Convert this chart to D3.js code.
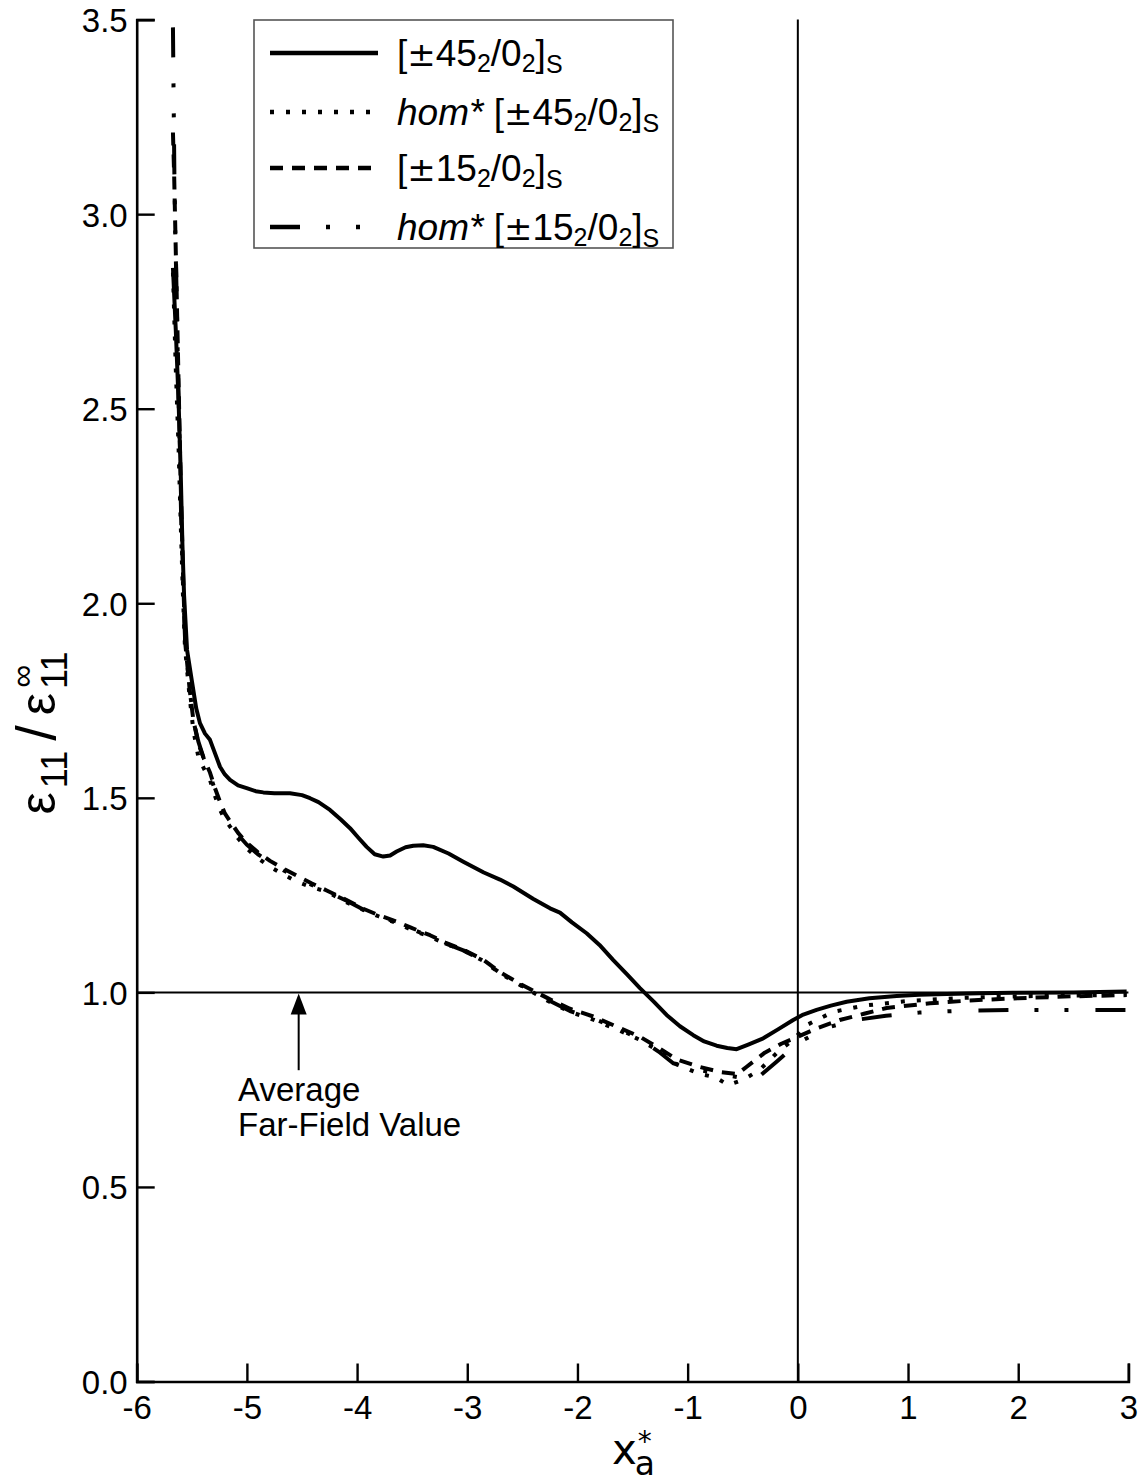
<!DOCTYPE html>
<html lang="en">
  <head>
    <meta charset="UTF-8" />
    <title>Normalized strain along x*a</title>
    <script src="https://d3js.org/d3.v7.min.js"></script>
    <style>
      body {
        margin: 0;
        padding: 0;
        background: #fff;
      }
      svg {
        display: block;
        font-family: "Liberation Sans", Arial, Helvetica, sans-serif;
      }
    </style>
  </head>
  <body>
    <svg width="1146" height="1483"></svg>
    <script>
      // values
      const xTicks = [-6, -5, -4, -3, -2, -1, 0, 1, 2, 3];
      const yTicks = [0, 0.5, 1, 1.5, 2, 2.5, 3, 3.5];

      const lam45X = [-5.671, -5.645, -5.62, -5.6, -5.585, -5.57, -5.543, -5.501, -5.46, -5.426, -5.38, -5.335, -5.29, -5.244, -5.2, -5.153, -5.08, -5.002, -4.92, -4.851, -4.75, -4.609, -4.5, -4.427, -4.35, -4.246, -4.15, -4.064, -3.99, -3.913, -3.84, -3.762, -3.7, -3.641, -3.56, -3.49, -3.4, -3.309, -3.17, -3.036, -2.85, -2.703, -2.582, -2.4, -2.249, -2.159, -2.05, -1.917, -1.8, -1.675, -1.55, -1.433, -1.31, -1.191, -1.07, -0.949, -0.85, -0.737, -0.64, -0.555, -0.45, -0.314, -0.18, -0.042, 0.05, 0.17, 0.3, 0.443, 0.65, 0.897, 1.1, 1.35, 1.65, 1.952, 2.5, 2.984];
      const lam45Y = [2.862, 2.7, 2.52, 2.33, 2.15, 2.02, 1.88, 1.803, 1.73, 1.692, 1.665, 1.649, 1.615, 1.58, 1.56, 1.546, 1.532, 1.525, 1.517, 1.514, 1.512, 1.512, 1.507, 1.499, 1.489, 1.469, 1.445, 1.422, 1.398, 1.374, 1.355, 1.349, 1.352, 1.362, 1.373, 1.377, 1.378, 1.374, 1.357, 1.336, 1.308, 1.29, 1.272, 1.24, 1.216, 1.205, 1.18, 1.152, 1.122, 1.083, 1.046, 1.011, 0.977, 0.942, 0.913, 0.89, 0.874, 0.863, 0.857, 0.854, 0.866, 0.882, 0.905, 0.929, 0.943, 0.955, 0.966, 0.976, 0.985, 0.991, 0.994, 0.996, 0.998, 0.999, 1.0, 1.002];

      const hom45X = [-5.671, -5.645, -5.62, -5.6, -5.58, -5.562, -5.52, -5.486, -5.441, -5.39, -5.335, -5.29, -5.244, -5.2, -5.153, -5.08, -5.002, -4.9, -4.79, -4.67, -4.548, -4.41, -4.276, -4.1, -3.944, -3.8, -3.641, -3.5, -3.338, -3.2, -3.036, -2.85, -2.703, -2.522, -2.249, -2.068, -1.857, -1.644, -1.433, -1.25, -1.1, -0.886, -0.75, -0.632, -0.5, -0.35, -0.163, -0.04, 0.08, 0.32, 0.6, 1.0, 1.5, 2.0, 2.5, 2.984];
      const hom45Y = [2.85, 2.6, 2.4, 2.2, 2.02, 1.888, 1.76, 1.674, 1.606, 1.575, 1.546, 1.505, 1.469, 1.445, 1.426, 1.396, 1.37, 1.345, 1.323, 1.303, 1.285, 1.27, 1.259, 1.232, 1.212, 1.195, 1.178, 1.16, 1.143, 1.125, 1.109, 1.08, 1.049, 1.019, 0.975, 0.95, 0.93, 0.905, 0.878, 0.848, 0.815, 0.79, 0.782, 0.762, 0.775, 0.8, 0.852, 0.878, 0.916, 0.95, 0.966, 0.978, 0.986, 0.99, 0.992, 0.994];

      const lam15X = [-5.671, -5.66, -5.645, -5.63, -5.615, -5.6, -5.58, -5.56, -5.52, -5.486, -5.441, -5.39, -5.335, -5.29, -5.244, -5.2, -5.153, -5.08, -5.002, -4.9, -4.79, -4.67, -4.548, -4.41, -4.276, -4.1, -3.944, -3.8, -3.641, -3.5, -3.338, -3.2, -3.036, -2.85, -2.703, -2.522, -2.249, -2.068, -1.857, -1.644, -1.433, -1.25, -1.1, -0.886, -0.7, -0.55, -0.464, -0.3, -0.15, 0.0, 0.15, 0.38, 0.6, 0.806, 1.2, 1.6, 2.0, 2.5, 2.984];
      const lam15Y = [3.21, 3.1, 2.9, 2.7, 2.5, 2.3, 2.08, 1.9, 1.78, 1.7, 1.64, 1.6, 1.565, 1.525, 1.49, 1.46, 1.44, 1.41, 1.385, 1.36, 1.338, 1.318, 1.3, 1.28, 1.262, 1.238, 1.215, 1.198, 1.182, 1.165, 1.147, 1.128, 1.11, 1.083, 1.052, 1.022, 0.982, 0.958, 0.938, 0.912, 0.886, 0.855, 0.828, 0.808, 0.795, 0.79, 0.809, 0.845, 0.868, 0.886, 0.905, 0.929, 0.945, 0.96, 0.972, 0.98, 0.985, 0.99, 0.993];

      const hom15X = [-5.671, -5.665, -5.658, -5.65, -5.638, -5.625, -5.61, -5.595, -5.58, -5.56, -5.52, -5.486, -5.441, -5.39, -5.335, -5.29, -5.244, -5.2, -5.153, -5.08, -5.002, -4.9, -4.79, -4.67, -4.548, -4.41, -4.276, -4.1, -3.944, -3.8, -3.641, -3.5, -3.338, -3.2, -3.036, -2.85, -2.703, -2.522, -2.249, -2.068, -1.857, -1.644, -1.433, -1.25, -1.131, -0.886, -0.7, -0.5, -0.387, -0.193, 0.0, 0.261, 0.5, 0.8, 1.1, 1.5, 2.0, 2.5, 2.984];
      const hom15Y = [3.48, 3.3, 3.1, 2.95, 2.8, 2.6, 2.4, 2.2, 2.05, 1.9, 1.78, 1.7, 1.645, 1.6, 1.56, 1.52, 1.485, 1.455, 1.432, 1.405, 1.38, 1.355, 1.335, 1.314, 1.296, 1.276, 1.26, 1.236, 1.213, 1.196, 1.18, 1.162, 1.144, 1.126, 1.108, 1.08, 1.05, 1.02, 0.978, 0.952, 0.933, 0.908, 0.88, 0.845, 0.818, 0.8, 0.79, 0.78, 0.775, 0.822, 0.87, 0.909, 0.928, 0.94, 0.948, 0.953, 0.955, 0.955, 0.955];

      const series = [
        { lay: "±45", hom: false, xs: lam45X, ys: lam45Y, dash: null },
        { lay: "±45", hom: true, xs: hom45X, ys: hom45Y, dash: "4,12" },
        { lay: "±15", hom: false, xs: lam15X, ys: lam15Y, dash: "13,9" },
        { lay: "±15", hom: true, xs: hom15X, ys: hom15Y, dash: "30,26,4,26,4,27" },
      ];

      const svg = d3.select("svg");
      const margin = { left: 136.7, right: 1128.4, top: 19.6, bottom: 1381.5 };

      const x = d3.scaleLinear().domain([-6, 3]).range([margin.left, margin.right]);
      const y = d3.scaleLinear().domain([0, 3.5]).range([margin.bottom, margin.top]);

      // reference lines: far-field value and x = 0
      svg.append("line")
        .attr("x1", x(-6)).attr("x2", x(3))
        .attr("y1", y(1)).attr("y2", y(1))
        .attr("stroke", "#000").attr("stroke-width", 2);
      svg.append("line")
        .attr("x1", x(0)).attr("x2", x(0))
        .attr("y1", y(0)).attr("y2", y(3.5))
        .attr("stroke", "#000").attr("stroke-width", 2);

      // axes (inward ticks, no box)
      const xAxis = svg.append("g")
        .attr("transform", `translate(0,${y(0)})`)
        .call(d3.axisBottom(x).tickValues(xTicks).tickSize(-18).tickPadding(14).tickFormat((d) => String(d)));
      const yAxis = svg.append("g")
        .attr("transform", `translate(${x(-6)},0)`)
        .call(d3.axisLeft(y).tickValues(yTicks).tickSize(-18).tickPadding(9).tickFormat(d3.format(".1f")));

      [xAxis, yAxis].forEach((g) => {
        g.select(".domain").attr("stroke-width", 2.6).attr("stroke", "#000");
        g.selectAll(".tick line").attr("stroke-width", 2.4).attr("stroke", "#000");
        g.selectAll(".tick text")
          .attr("font-size", 33)
          .attr("font-family", "'Liberation Sans', Arial, sans-serif")
          .attr("fill", "#000");
      });
      xAxis.selectAll(".tick text").attr("dy", "0.72em");
      yAxis.selectAll(".tick text").attr("dy", "0.36em");

      // curves
      const line = d3.line().x((d) => x(d[0])).y((d) => y(d[1]));
      series.forEach((s) => {
        svg.append("path")
          .datum(d3.zip(s.xs, s.ys))
          .attr("d", line)
          .attr("fill", "none")
          .attr("stroke", "#000")
          .attr("stroke-width", 4)
          .attr("stroke-linejoin", "round")
          .attr("stroke-dasharray", s.dash);
      });

      // annotation arrow
      const ax = x(-4.53);
      svg.append("line")
        .attr("x1", ax).attr("x2", ax)
        .attr("y1", y(0.80)).attr("y2", y(0.95))
        .attr("stroke", "#000").attr("stroke-width", 2);
      svg.append("path")
        .attr("d", `M${ax},${y(1) + 1}L${ax - 8},${y(1) + 22}L${ax + 8},${y(1) + 22}Z`)
        .attr("fill", "#000");
      const note = svg.append("text")
        .attr("font-size", 33)
        .attr("fill", "#000");
      note.append("tspan").attr("x", x(-5.08)).attr("y", y(0.72)).text("Average");
      note.append("tspan").attr("x", x(-5.08)).attr("y", y(0.72) + 35).text("Far-Field Value");

      // legend
      const lg = svg.append("g");
      lg.append("rect")
        .attr("x", 254).attr("y", 20)
        .attr("width", 419).attr("height", 228)
        .attr("fill", "#fff").attr("stroke", "#555").attr("stroke-width", 1.6);
      const rowY = [53, 112, 168, 227];
      series.forEach((s, i) => {
        lg.append("line")
          .attr("x1", 270).attr("x2", 378)
          .attr("y1", rowY[i]).attr("y2", rowY[i])
          .attr("stroke", "#000").attr("stroke-width", 4.5)
          .attr("stroke-dasharray", s.dash);
        const t = lg.append("text")
          .attr("x", 397).attr("y", rowY[i] + 13)
          .attr("font-size", 37).attr("fill", "#000");
        if (s.hom) {
          t.append("tspan").attr("font-style", "italic").text("hom*");
          t.append("tspan").text(" ");
        }
        t.append("tspan").text("[");
        t.append("tspan").attr("font-family", "'DejaVu Sans', sans-serif").attr("font-size", 34).text(s.lay[0]);
        t.append("tspan").text(s.lay.slice(1));
        t.append("tspan").attr("font-size", 25).attr("dy", 6).text("2");
        t.append("tspan").attr("dy", -6).text("/0");
        t.append("tspan").attr("font-size", 25).attr("dy", 6).text("2");
        t.append("tspan").attr("dy", -6).text("]");
        t.append("tspan").attr("font-size", 25).attr("dy", 7).text("S");
      });

      // axis titles
      const xt = svg.append("text")
        .attr("x", 612).attr("y", 1464)
        .attr("font-family", "'DejaVu Sans', sans-serif")
        .attr("fill", "#000");
      xt.append("tspan").attr("font-size", 42).text("x");
      xt.append("tspan").attr("font-size", 28).attr("dy", -13).attr("dx", 1).text("*");
      xt.append("tspan").attr("font-size", 33).attr("dy", 24).attr("dx", -17).text("a");

      const yt = svg.append("text")
        .attr("transform", "translate(55,733) rotate(-90)")
        .attr("text-anchor", "middle")
        .attr("fill", "#000")
        .attr("font-size", 50);
      yt.append("tspan").text("ε");
      yt.append("tspan").attr("font-size", 36).attr("dx", 4).attr("dy", 12).text("11");
      yt.append("tspan").attr("font-size", 56).attr("dx", 10).attr("dy", -12).text("/");
      yt.append("tspan").attr("dx", 10).text("ε");
      yt.append("tspan").attr("font-size", 36).attr("dx", 4).attr("dy", 12).text("11");
      yt.append("tspan").attr("font-size", 32).attr("dy", -34).attr("dx", -36).text("∞");
    </script>
  </body>
</html>
